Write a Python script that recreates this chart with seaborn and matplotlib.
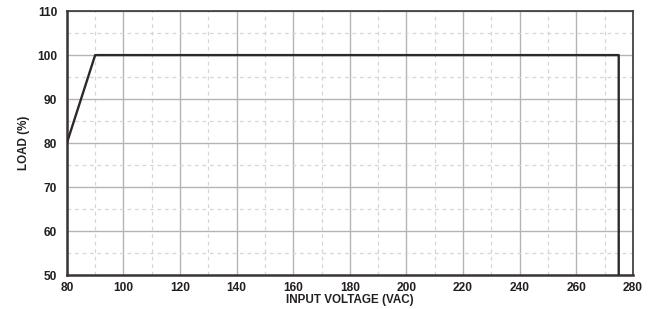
import numpy as np
import pandas as pd
import seaborn as sns
import matplotlib.pyplot as plt
from matplotlib.ticker import MultipleLocator

# data
voltage = [80, 90, 275, 275]
load = [80, 100, 100, 50]

x_ticks = [80, 100, 120, 140, 160, 180, 200, 220, 240, 260, 280]
y_ticks = [50, 60, 70, 80, 90, 100, 110]

sns.set_style("white")
plt.rcParams["font.family"] = ["Liberation Sans", "DejaVu Sans"]
plt.rcParams["font.weight"] = "bold"

fig = plt.figure(figsize=(6.62, 3.09), dpi=100)
ax = fig.add_axes([0.101, 0.110, 0.855, 0.854])

df = pd.DataFrame({"voltage": voltage, "load": load})
sns.lineplot(data=df, x="voltage", y="load", sort=False, estimator=None,
             color="#2e2828", linewidth=1.7, ax=ax, zorder=5)

ax.set_xlim(80, 280)
ax.set_ylim(50, 110)
ax.set_xticks(x_ticks)
ax.set_yticks(y_ticks)
ax.xaxis.set_minor_locator(MultipleLocator(10))
ax.yaxis.set_minor_locator(MultipleLocator(5))

ax.grid(which="major", color="#b4b4b4", linewidth=1.0, linestyle="-")
ax.grid(which="minor", color="#d6d6d6", linewidth=0.9, linestyle=(0, (3, 3)))
ax.set_axisbelow(True)

for side in ["left", "bottom"]:
    ax.spines[side].set_color("#3a3434")
    ax.spines[side].set_linewidth(1.8)
for side in ["right", "top"]:
    ax.spines[side].set_color("#3a3434")
    ax.spines[side].set_linewidth(1.2)

ax.tick_params(which="both", length=0, labelsize=8.6, colors="#231f20")
ax.tick_params(axis="y", pad=7)
ax.tick_params(axis="x", pad=5)
for lab in ax.get_xticklabels() + ax.get_yticklabels():
    lab.set_fontweight("bold")

ax.set_xlabel("INPUT VOLTAGE (VAC)", fontsize=8.4, fontweight="bold", color="#231f20", labelpad=0)
ax.set_ylabel("LOAD (%)", fontsize=8.4, fontweight="bold", color="#231f20", labelpad=5)

plt.savefig("out.png", dpi=100)
